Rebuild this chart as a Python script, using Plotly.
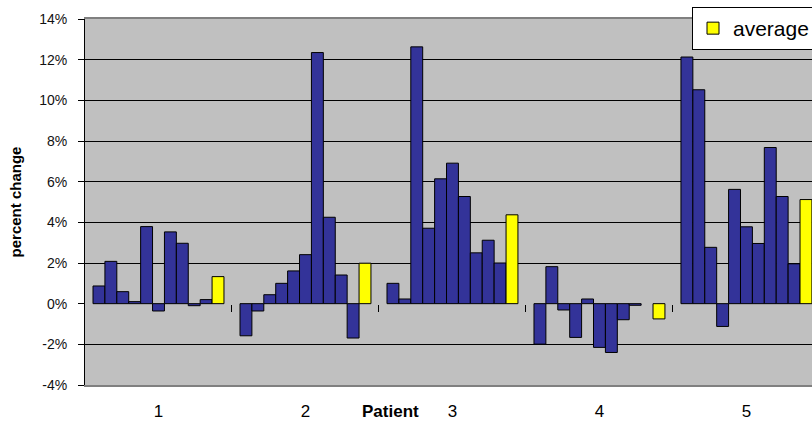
import plotly.graph_objects as go

# ---- data (percent change) ----
patients = ["1", "2", "3", "4", "5"]
patient_1 = [0.87, 2.08, 0.59, 0.10, 3.79, -0.36, 3.53, 2.97, -0.10, 0.20]
patient_2 = [-1.58, -0.36, 0.44, 1.00, 1.61, 2.41, 12.35, 4.25, 1.41, -1.69]
patient_3 = [1.00, 0.23, 12.63, 3.71, 6.14, 6.91, 5.27, 2.50, 3.12, 2.00]
patient_4 = [-1.99, 1.82, -0.31, -1.66, 0.23, -2.15, -2.40, -0.79, -0.08, None]
patient_5 = [12.13, 10.52, 2.77, -1.12, 5.62, 3.78, 2.96, 7.68, 5.27, 1.96]
averages = [1.33, 1.99, 4.37, -0.75, 5.12]
y_ticks = [-4, -2, 0, 2, 4, 6, 8, 10, 12, 14]
y_tick_labels = ["-4%", "-2%", "0%", "2%", "4%", "6%", "8%", "10%", "12%", "14%"]
group_dividers = [0.5, 1.5, 2.5, 3.5, 4.5]

all_patients = [patient_1, patient_2, patient_3, patient_4, patient_5]

BLUE = "#333399"
YELLOW = "#FFFF00"
BG = "#C0C0C0"

x_range = [-0.5, 4.446]
y_range = [y_ticks[0], y_ticks[-1]]

fig = go.Figure()
for i in range(len(patient_1)):
    fig.add_trace(go.Bar(
        x=patients,
        y=[p[i] for p in all_patients],
        marker=dict(color=BLUE, line=dict(color="black", width=1)),
        showlegend=False,
        name=f"measurement {i+1}",
    ))
fig.add_trace(go.Bar(
    x=patients, y=averages, name="average",
    marker=dict(color=YELLOW, line=dict(color="black", width=1)),
    showlegend=True,
))
# helper trace so the tick-mark axis at 0% is drawn
fig.add_trace(go.Scatter(x=[None], y=[None], xaxis="x2", yaxis="y",
                         showlegend=False, hoverinfo="skip"))

fig.update_layout(
    width=812, height=421,
    margin=dict(l=85, r=0, t=19, b=36, autoexpand=False),
    paper_bgcolor="white",
    plot_bgcolor=BG,
    barmode="group",
    bargap=0.109,
    bargroupgap=0,
    font=dict(family="Liberation Sans, Arial, sans-serif", color="black"),
    xaxis=dict(
        type="category",
        range=x_range,
        showgrid=False,
        ticks="",
        showline=True, linecolor="#808080", linewidth=2, mirror=True,
        tickfont=dict(size=17),
        ticklabelstandoff=10,
    ),
    xaxis2=dict(
        type="linear",
        range=x_range,
        overlaying="x",
        anchor="free",
        position=(0 - y_range[0]) / (y_range[1] - y_range[0]),
        side="bottom",
        showline=False,
        showgrid=False,
        zeroline=False,
        tickmode="array",
        tickvals=group_dividers,
        ticks="outside", ticklen=7, tickwidth=1, tickcolor="black",
        showticklabels=False,
    ),
    yaxis=dict(
        range=y_range,
        tickmode="array",
        tickvals=y_ticks,
        ticktext=y_tick_labels,
        showgrid=True, gridcolor="black", gridwidth=1,
        zeroline=True, zerolinecolor=BG, zerolinewidth=1,
        showline=True, linecolor="black", linewidth=1,
        ticks="outside", ticklen=6, tickcolor="black",
        tickfont=dict(size=14, color="#111"),
        ticklabelstandoff=8,
        title=dict(text="<b>percent change</b>", font=dict(size=15), standoff=13),
    ),
    legend=dict(
        x=(692 - 85) / 727, xanchor="left",
        y=1 + 12 / 366, yanchor="top",
        bgcolor="white", bordercolor="black", borderwidth=1,
        font=dict(size=21),
        itemwidth=30,
    ),
    annotations=[dict(
        text="<b>Patient</b>", xref="paper", yref="paper",
        x=(390 - 85) / 727, y=-(411 - 385) / 366,
        xanchor="center", yanchor="middle", showarrow=False,
        font=dict(size=17),
    )],
)

fig.write_html("out.html", config={"displayModeBar": False},
               post_script="document.body.style.margin='0';")
